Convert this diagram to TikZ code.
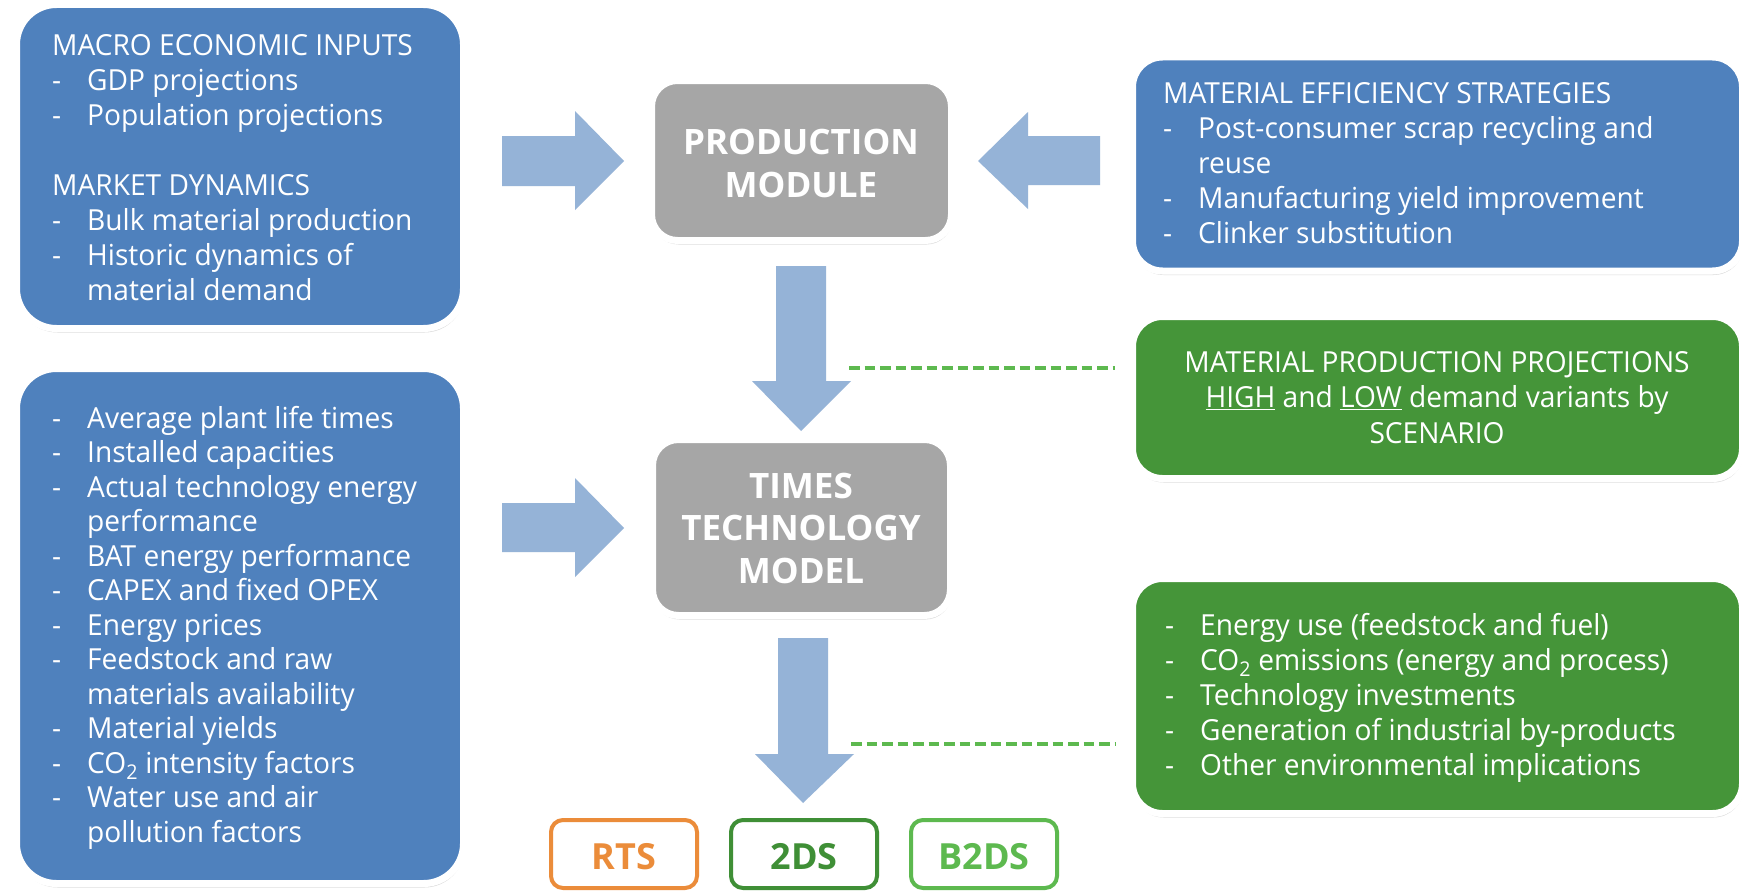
\documentclass[tikz,border=0pt]{standalone}
\usepackage{fontspec}
\setmainfont[FakeStretch=0.97]{Open Sans}
\newfontfamily\boldfam{Open Sans}
\usetikzlibrary{shadows}
\definecolor{boxblue}{HTML}{4F81BD}
\definecolor{boxgreen}{HTML}{459539}
\definecolor{boxgray}{HTML}{A6A6A6}
\definecolor{arrowblue}{HTML}{95B3D7}
\definecolor{dashgreen}{HTML}{5DB94F}
\definecolor{rtsorange}{HTML}{EB8C3A}
\definecolor{twodsgreen}{HTML}{3F8F36}
\definecolor{btwogreen}{HTML}{5DB94F}
\newcommand\itm[2][35pt]{\makebox[#1][l]{-}#2}
\newcommand\cnt[2][35pt]{\hspace*{#1}#2}
\tikzset{
  panel/.style={draw=white, line width=7pt, inner sep=0pt,
    drop shadow={shadow xshift=1pt, shadow yshift=-4pt, opacity=0.28}},
  bluepanel/.style={panel, fill=boxblue, rounded corners=40pt},
  rbluepanel/.style={panel, fill=boxblue, rounded corners=30pt},
  greenpanel/.style={panel, fill=boxgreen, rounded corners=30pt},
  graypanel/.style={panel, fill=boxgray, rounded corners=26pt},
  listtext/.style={anchor=base west, inner sep=0pt, align=left, text=white,
    font=\fontsize{29}{35}\selectfont},
  boldtext/.style={anchor=base, inner sep=0pt, align=center, text=white,
    font=\boldfam\fontsize{35}{43}\selectfont\bfseries},
  blockarrow/.style={fill=arrowblue, draw=none},
  dashlink/.style={draw=dashgreen, line width=4pt, dash pattern=on 10.5pt off 5pt},
  scen/.style={draw=#1, line width=4pt, rounded corners=12pt, inner sep=0pt,
    minimum width=146pt, minimum height=68pt, fill=white},
  scentext/.style={anchor=base, inner sep=0pt, text=#1,
    font=\boldfam\fontsize{36}{40}\selectfont\bfseries}
}
\begin{document}
\begin{tikzpicture}[x=1pt,y=-1pt]
\useasboundingbox[fill=white] (0,0) rectangle (1750,891);

% panels
\node[bluepanel, minimum width=447pt, minimum height=324pt] (macro) at (240,166.5) {};
\node[bluepanel, minimum width=447pt, minimum height=515pt] (techin) at (240,626) {};
\node[rbluepanel, minimum width=610pt, minimum height=214pt] (mes) at (1437.5,164) {};
\node[greenpanel, minimum width=610pt, minimum height=162pt] (mpp) at (1437.5,397.5) {};
\node[greenpanel, minimum width=610pt, minimum height=235pt] (outs) at (1437.5,696) {};
\node[graypanel, minimum width=300pt, minimum height=160pt] (prod) at (801.5,160.5) {};
\node[graypanel, minimum width=298pt, minimum height=176pt] (times) at (801.5,527.5) {};

% texts (anchor = baseline of the last line)
\node[listtext] (macrot) at (52,300) {MACRO ECONOMIC INPUTS\\
\itm{GDP projections}\\
\itm{Population projections}\\[35pt]
MARKET DYNAMICS\\
\itm{Bulk material production}\\
\itm{Historic dynamics of}\\
\cnt{material demand}};

\node[listtext, font=\fontsize{29}{34.5}\selectfont] (techint) at (52,842) {\itm{Average plant life times}\\
\itm{Installed capacities}\\
\itm{Actual technology energy}\\
\cnt{performance}\\
\itm{BAT energy performance}\\
\itm{CAPEX and fixed OPEX}\\
\itm{Energy prices}\\
\itm{Feedstock and raw}\\
\cnt{materials availability}\\
\itm{Material yields}\\
\itm{CO\textsubscript{2} intensity factors}\\
\itm{Water use and air}\\
\cnt{pollution factors}};

\node[listtext] (mest) at (1163,243) {MATERIAL EFFICIENCY STRATEGIES\\
\itm{Post-consumer scrap recycling and}\\
\cnt{reuse}\\
\itm{Manufacturing yield improvement}\\
\itm{Clinker substitution}};

\node[listtext, anchor=base, align=center, font=\fontsize{29}{35.5}\selectfont] (mppt) at (1437,443) {MATERIAL PRODUCTION PROJECTIONS\\
\underline{HIGH} and \underline{LOW} demand variants by\\
SCENARIO};

\node[listtext] (outst) at (1165,775) {\itm[35pt]{Energy use (feedstock and fuel)}\\
\itm[35pt]{CO\textsubscript{2} emissions (energy and process)}\\
\itm[35pt]{Technology investments}\\
\itm[35pt]{Generation of industrial by-products}\\
\itm[35pt]{Other environmental implications}};

\node[boldtext] (prodt) at (801,197) {PRODUCTION\\MODULE};
\node[boldtext, font=\boldfam\fontsize{35}{42.5}\selectfont\bfseries] (timest) at (801,583) {TIMES\\TECHNOLOGY\\MODEL};

% block arrows
\fill[blockarrow] (502,136) -- (575,136) -- (575,111) -- (624,161) -- (575,210) -- (575,186) -- (502,186) -- cycle;
\fill[blockarrow] (502,503) -- (575,503) -- (575,478) -- (624,528) -- (575,577) -- (575,552) -- (502,552) -- cycle;
\fill[blockarrow] (1100,136) -- (1028,136) -- (1028,112) -- (978,161) -- (1028,209) -- (1028,185) -- (1100,185) -- cycle;
\fill[blockarrow] (776,266) -- (826,266) -- (826,381) -- (851,381) -- (801,431) -- (752,381) -- (776,381) -- cycle;
\fill[blockarrow] (778,638) -- (828,638) -- (828,754) -- (854,754) -- (803,803) -- (755,754) -- (778,754) -- cycle;

% dashed links
\coordinate (d1s) at (849,368);
\coordinate (d1e) at (1115,368);
\coordinate (d2s) at (851,744);
\coordinate (d2e) at (1115,744);
\draw[dashlink] (d1s) -- (d1e);
\draw[dashlink] (d2s) -- (d2e);

% scenarios
\node[scen=rtsorange] (rts) at (624,854) {};
\node[scen=twodsgreen] (tds) at (804,854) {};
\node[scen=btwogreen] (btds) at (984,854) {};
\node[scentext=rtsorange] (rtst) at (624,869) {RTS};
\node[scentext=twodsgreen] (tdst) at (804,869) {2DS};
\node[scentext=btwogreen] (btdst) at (984,869) {B2DS};
\end{tikzpicture}
\end{document}
